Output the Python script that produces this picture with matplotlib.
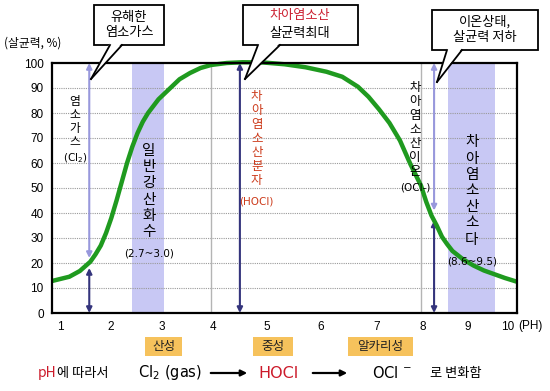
import matplotlib
matplotlib.use('Agg')
import matplotlib.pyplot as plt
from matplotlib.patches import Rectangle, Polygon, FancyArrowPatch
from matplotlib.lines import Line2D

plt.rcParams['font.family'] = ['Noto Sans CJK KR', 'DejaVu Sans']
plt.rcParams['mathtext.fontset'] = 'dejavusans'

# curve: 살균력 (%) vs pH
ph = [0.97, 1.3, 1.5, 1.7, 1.8, 1.9, 2.0, 2.1, 2.2, 2.3, 2.4, 2.5, 2.6, 2.7, 2.8,
      3.0, 3.2, 3.4, 3.6, 3.8, 4.0, 4.3, 4.6, 5.0, 5.4, 5.8, 6.2, 6.5, 6.8, 7.0,
      7.2, 7.4, 7.6, 7.8, 8.0, 8.1, 8.2, 8.3, 8.4, 8.5, 8.6, 8.8, 9.0, 9.2, 9.4,
      9.6, 9.83]
power = [12.8, 14.5, 16.8, 20.5, 23.5, 27, 32, 38, 45, 52.5, 60, 66.5, 72, 76.5, 80,
         85.5, 89.5, 93.5, 96, 98, 99.2, 100, 100.3, 100.2, 99.5, 98.3, 96.5, 94.5, 90.5, 86.5,
         81.5, 76, 69, 59.5, 51, 44.5, 39, 35, 30.5, 27.5, 24.8, 21.5, 19, 17, 15.5,
         14, 12.5]

x_labels = ['1', '2', '3', '4', '5', '6', '7', '8', '9', '10']
x_label_pos = [1.12, 2.08, 3.07, 4.04, 5.07, 6.08, 7.16, 8.04, 8.90, 9.66]
bands = [(2.50, 3.10), (8.51, 9.41)]

# arrows: (pH, from, to, kind)
arrows = [(1.68, 22, 100, 'light'), (1.68, 0, 18, 'dark'),
          (4.55, 0, 100, 'dark'),
          (8.25, 41, 100, 'light'), (8.25, 0, 37, 'dark')]

W, H = 550, 391
fig = plt.figure(figsize=(W / 100, H / 100), dpi=100)
fig.patch.set_facecolor('white')

def fx(px):
    return px / W

def fy(py):
    return 1 - py / H

ax = fig.add_axes([fx(52), fy(313), (517 - 52) / W, (313 - 63) / H])
ax.set_xlim(0.97, 9.83)
ax.set_ylim(0, 100)

for a, b in bands:
    ax.axvspan(a, b, color='#c8c8f4', lw=0, zorder=0)
for v in range(10, 100, 10):
    ax.axhline(v, color='#9a9a9a', lw=0.8, ls=(0, (1, 1)), zorder=1)
for v in (4, 8):
    ax.axvline(v, color='#b4b4b4', lw=1.0, zorder=1)

cols = {'light': '#9898dc', 'dark': '#34347c'}
for x, y0, y1, kind in arrows:
    ax.annotate('', xy=(x, y1), xytext=(x, y0),
                arrowprops=dict(arrowstyle='<|-|>', color=cols[kind], lw=1.5,
                                mutation_scale=8, shrinkA=0, shrinkB=0),
                zorder=2, annotation_clip=False)

ax.plot(ph, power, color='#1f9a1f', lw=3.2, zorder=4, solid_capstyle='butt',
        solid_joinstyle='round', clip_on=False)

ax.set_xticks(x_label_pos)
ax.set_xticklabels(x_labels, fontfamily='Liberation Sans', fontsize=8.5)
ax.set_yticks(range(0, 101, 10))
ax.set_yticklabels([str(v) for v in range(0, 101, 10)], fontfamily='Liberation Sans', fontsize=8.5)
ax.tick_params(length=0, pad=6)
for s in ax.spines.values():
    s.set_linewidth(1.6)
    s.set_color('black')
    s.set_zorder(5)

# vertical stacked labels inside the plot
def stack(x, y, chars, size, color='black', ls=1.2):
    ax.text(x, y, '\n'.join(chars), ha='center', va='center', fontsize=size,
            color=color, linespacing=ls, zorder=6)

stack(1.41, 76.5, '염소가스', 8.5, ls=1.05)
ax.text(1.41, 62, '(Cl$_2$)', ha='center', va='center', fontsize=7.5, zorder=6,
        fontfamily='DejaVu Sans')
stack(2.82, 48.6, '일반강산화수', 10.5, ls=1.2)
ax.text(2.82, 24, '(2.7~3.0)', ha='center', va='center', fontsize=7.5, zorder=6,
        fontfamily='DejaVu Sans')
stack(4.87, 69.8, '차아염소산분자', 9, color='#cc3a1a', ls=1.1)
ax.text(4.87, 44.5, '(HOCl)', ha='center', va='center', fontsize=7.5, color='#cc3a1a',
        zorder=6, fontfamily='DejaVu Sans')
stack(7.89, 73.3, '차아염소산이온', 9, ls=1.1)
ax.text(7.89, 50.4, '(OCl-)', ha='center', va='center', fontsize=7.5, zorder=6,
        fontfamily='DejaVu Sans')
stack(8.97, 48.8, '차아염소산소다', 10.5, ls=1.2)
ax.text(8.97, 20.5, '(8.6~9.5)', ha='center', va='center', fontsize=7.5, zorder=6,
        fontfamily='DejaVu Sans')

fig.text(fx(4), fy(43), '(살균력, %)', ha='left', va='center', fontsize=8.5)
fig.text(fx(518), fy(326), '(PH)', ha='left', va='center', fontsize=8.5,
         fontfamily='Liberation Sans')

# speech bubbles
def bubble(x0, y0, x1, y1, ba, bb, tip):
    fig.add_artist(Rectangle((fx(x0), fy(y1)), fx(x1) - fx(x0), fy(y0) - fy(y1),
                             transform=fig.transFigure, facecolor='white',
                             edgecolor='black', lw=1.3, zorder=10))
    fig.add_artist(Polygon([(fx(ba), fy(y1 - 2)), (fx(bb), fy(y1 - 2)), (fx(tip[0]), fy(tip[1]))],
                           closed=True, transform=fig.transFigure, facecolor='white',
                           edgecolor='none', zorder=11))
    for b in (ba, bb):
        fig.add_artist(Line2D([fx(b), fx(tip[0])], [fy(y1), fy(tip[1])],
                              transform=fig.transFigure, color='black', lw=1.3, zorder=12))

bubble(94, 5, 164, 45, 110, 122, (91, 79))
fig.text(fx(129), fy(25), '유해한\n염소가스', ha='center', va='center', fontsize=9.5,
         linespacing=1.25, zorder=13)

bubble(243, 5, 358, 45, 258, 280, (245, 79))
fig.text(fx(300), fy(16), '차아염소산', ha='center', va='center', fontsize=9.5,
         color='#cc2233', zorder=13)
fig.text(fx(300), fy(33), '살균력최대', ha='center', va='center', fontsize=9.5, zorder=13)

bubble(432, 10, 538, 50, 447, 462, (437, 82))
fig.text(fx(485), fy(30), '이온상태,\n살균력 저하', ha='center', va='center', fontsize=9.5,
         linespacing=1.25, zorder=13)

# bottom: acidity boxes and conversion row
for (x0, x1), lab in zip([(145, 182), (253, 293), (348, 413)], ['산성', '중성', '알카리성']):
    fig.add_artist(Rectangle((fx(x0), fy(356)), fx(x1) - fx(x0), fy(337) - fy(356),
                             transform=fig.transFigure, facecolor='#f6c25c',
                             edgecolor='none', zorder=2))
    fig.text(fx((x0 + x1) / 2), fy(346.5), lab, ha='center', va='center', fontsize=9,
             color='#222222', zorder=3)

ry = fy(373)
fig.text(fx(38), ry, 'pH', ha='left', va='center', fontsize=10, color='#cc1a2a')
fig.text(fx(57), ry, '에 따라서', ha='left', va='center', fontsize=9.5)
fig.text(fx(170), ry, 'Cl$_2$ (gas)', ha='center', va='center', fontsize=10.5,
         fontfamily='DejaVu Sans')
fig.text(fx(279), ry, 'HOCl', ha='center', va='center', fontsize=11.5, color='#cc1a2a',
         fontfamily='DejaVu Sans')
fig.text(fx(392), ry, 'OCl $^{-}$', ha='center', va='center', fontsize=10.5,
         fontfamily='DejaVu Sans')
fig.text(fx(456), ry, '로 변화함', ha='center', va='center', fontsize=9.5)
for a, b in [(208, 250), (310, 350)]:
    fig.add_artist(FancyArrowPatch(
        (fx(a), ry), (fx(b), ry), transform=fig.transFigure, arrowstyle='-|>',
        mutation_scale=9, lw=1.6, color='black'))

fig.savefig('out.png', dpi=100)
